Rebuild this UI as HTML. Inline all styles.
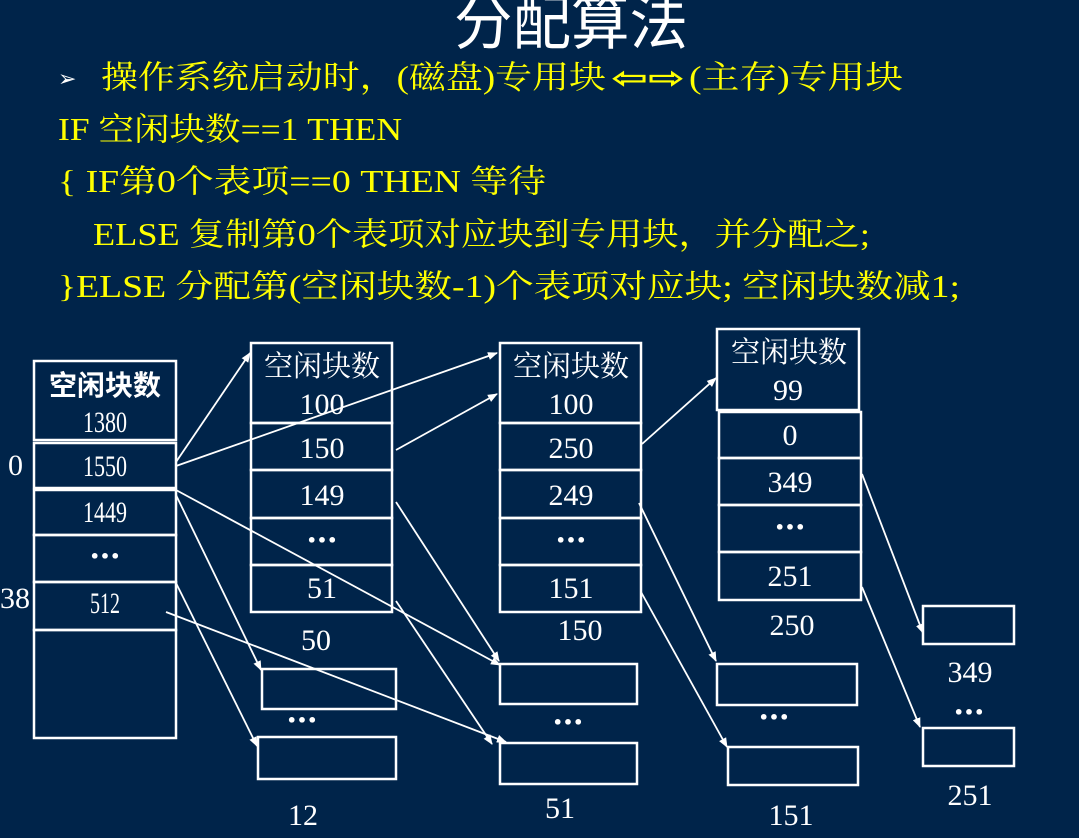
<!DOCTYPE html>
<html><head><meta charset="utf-8"><style>
html,body{margin:0;padding:0;background:#00244a;}
svg{display:block}
.y{fill:#ffff00;font-family:"Liberation Serif","Noto Serif CJK SC",serif;font-size:32px}
.w{fill:#fff;font-family:"Liberation Serif","Noto Serif CJK SC",serif;font-size:30px}
.d{fill:#fff;font-family:"DejaVu Sans",sans-serif;font-size:16px;font-weight:bold}
.b{fill:none;stroke:#fff;stroke-width:2.5}
.l{stroke:#fff;stroke-width:1.8;fill:none;marker-end:url(#a)}
</style></head><body>
<svg width="1079" height="838" viewBox="0 0 1079 838" xmlns="http://www.w3.org/2000/svg">
<defs><marker id="a" markerWidth="10" markerHeight="10" refX="9" refY="5" orient="auto" markerUnits="userSpaceOnUse"><path d="M0,1 L10,5 L0,9 Z" fill="#fff"/></marker></defs>
<rect width="1079" height="838" fill="#00244a"/>
<text x="571" y="44" class="w" text-anchor="middle" textLength="234" lengthAdjust="spacingAndGlyphs" style="font-family:'Noto Sans CJK SC',sans-serif;font-size:60px">分配算法</text>
<text x="58" y="86" fill="#fff" font-size="22" font-family="DejaVu Sans">➢</text>
<text x="101" y="88" class="y" textLength="505" lengthAdjust="spacingAndGlyphs">操作系统启动时，(磁盘)专用块</text>
<text x="611" y="88" fill="#ffff00" font-size="30" font-family="DejaVu Sans" font-weight="bold" textLength="74" lengthAdjust="spacingAndGlyphs">⇦⇨</text>
<text x="689" y="88" class="y" textLength="214" lengthAdjust="spacingAndGlyphs">(主存)专用块</text>
<text x="58" y="140" class="y" textLength="344" lengthAdjust="spacingAndGlyphs">IF 空闲块数==1 THEN</text>
<text x="58" y="192" class="y" textLength="488" lengthAdjust="spacingAndGlyphs">{  IF第0个表项==0 THEN 等待</text>
<text x="93" y="245" class="y" textLength="777" lengthAdjust="spacingAndGlyphs">ELSE 复制第0个表项对应块到专用块，并分配之;</text>
<text x="58" y="297" class="y" textLength="902" lengthAdjust="spacingAndGlyphs">}ELSE 分配第(空闲块数-1)个表项对应块; 空闲块数减1;</text>

<!-- column 1 -->
<rect x="34" y="361" width="142" height="79" class="b"/>
<rect x="34" y="443" width="142" height="45" class="b"/>
<rect x="34" y="490" width="142" height="45" class="b"/>
<rect x="34" y="535" width="142" height="47" class="b"/>
<rect x="34" y="582" width="142" height="48" class="b"/>
<rect x="34" y="630" width="142" height="108" class="b"/>
<text x="105" y="395" class="w" text-anchor="middle" style="font-weight:bold;font-family:'Noto Sans CJK SC',sans-serif;font-size:28px">空闲块数</text>
<text x="105" y="432" class="w" text-anchor="middle" textLength="44" lengthAdjust="spacingAndGlyphs">1380</text>
<text x="105" y="476" class="w" text-anchor="middle" textLength="44" lengthAdjust="spacingAndGlyphs">1550</text>
<text x="105" y="522" class="w" text-anchor="middle" textLength="44" lengthAdjust="spacingAndGlyphs">1449</text>
<text x="105" y="562" class="d" text-anchor="middle">•••</text>
<text x="105" y="613" class="w" text-anchor="middle" textLength="30" lengthAdjust="spacingAndGlyphs">512</text>
<text x="8" y="475" class="w">0</text>
<text x="0" y="608" class="w">38</text>

<!-- column 2 -->
<rect x="251" y="343" width="141" height="80" class="b"/>
<rect x="251" y="423" width="141" height="47" class="b"/>
<rect x="251" y="470" width="141" height="48" class="b"/>
<rect x="251" y="518" width="141" height="47" class="b"/>
<rect x="251" y="565" width="141" height="47" class="b"/>
<text x="322" y="376" class="w" text-anchor="middle" style="font-family:'Noto Serif CJK SC',serif;font-size:29px">空闲块数</text>
<text x="322" y="414" class="w" text-anchor="middle">100</text>
<text x="322" y="458" class="w" text-anchor="middle">150</text>
<text x="322" y="505" class="w" text-anchor="middle">149</text>
<text x="322" y="546" class="d" text-anchor="middle">•••</text>
<text x="322" y="598" class="w" text-anchor="middle">51</text>
<text x="316" y="650" class="w" text-anchor="middle">50</text>
<rect x="262" y="669" width="134" height="40" class="b"/>
<text x="302" y="726" class="d" text-anchor="middle">•••</text>
<rect x="258" y="737" width="138" height="42" class="b"/>
<text x="303" y="825" class="w" text-anchor="middle">12</text>

<!-- column 3 -->
<rect x="500" y="343" width="141" height="80" class="b"/>
<rect x="500" y="423" width="141" height="47" class="b"/>
<rect x="500" y="470" width="141" height="48" class="b"/>
<rect x="500" y="518" width="141" height="47" class="b"/>
<rect x="500" y="565" width="141" height="47" class="b"/>
<text x="571" y="376" class="w" text-anchor="middle" style="font-family:'Noto Serif CJK SC',serif;font-size:29px">空闲块数</text>
<text x="571" y="414" class="w" text-anchor="middle">100</text>
<text x="571" y="458" class="w" text-anchor="middle">250</text>
<text x="571" y="505" class="w" text-anchor="middle">249</text>
<text x="571" y="546" class="d" text-anchor="middle">•••</text>
<text x="571" y="598" class="w" text-anchor="middle">151</text>
<text x="580" y="640" class="w" text-anchor="middle">150</text>
<rect x="500" y="664" width="137" height="40" class="b"/>
<text x="568" y="728" class="d" text-anchor="middle">•••</text>
<rect x="500" y="743" width="137" height="41" class="b"/>
<text x="560" y="818" class="w" text-anchor="middle">51</text>

<!-- column 4 -->
<rect x="717" y="329" width="142" height="81" class="b"/>
<rect x="719" y="412" width="142" height="46" class="b"/>
<rect x="719" y="458" width="142" height="47" class="b"/>
<rect x="719" y="505" width="142" height="47" class="b"/>
<rect x="719" y="552" width="142" height="48" class="b"/>
<text x="789" y="362" class="w" text-anchor="middle" style="font-family:'Noto Serif CJK SC',serif;font-size:29px">空闲块数</text>
<text x="788" y="400" class="w" text-anchor="middle">99</text>
<text x="790" y="445" class="w" text-anchor="middle">0</text>
<text x="790" y="492" class="w" text-anchor="middle">349</text>
<text x="790" y="533" class="d" text-anchor="middle">•••</text>
<text x="790" y="586" class="w" text-anchor="middle">251</text>
<text x="792" y="635" class="w" text-anchor="middle">250</text>
<rect x="717" y="664" width="140" height="41" class="b"/>
<text x="774" y="723" class="d" text-anchor="middle">•••</text>
<rect x="728" y="747" width="130" height="38" class="b"/>
<text x="791" y="825" class="w" text-anchor="middle">151</text>

<!-- column 5 -->
<rect x="923" y="606" width="91" height="38" class="b"/>
<text x="970" y="682" class="w" text-anchor="middle">349</text>
<text x="969" y="718" class="d" text-anchor="middle">•••</text>
<rect x="923" y="728" width="91" height="38" class="b"/>
<text x="970" y="805" class="w" text-anchor="middle">251</text>

<!-- arrows -->
<line x1="176" y1="462" x2="250" y2="353" class="l"/>
<line x1="176" y1="466" x2="497" y2="353" class="l"/>
<line x1="396" y1="450" x2="497" y2="394" class="l"/>
<line x1="642" y1="444" x2="716" y2="378" class="l"/>
<line x1="176" y1="490" x2="500" y2="665" class="l"/>
<line x1="176" y1="495" x2="261" y2="670" class="l"/>
<line x1="176" y1="583" x2="257" y2="746" class="l"/>
<line x1="166" y1="612" x2="506" y2="742" class="l"/>
<line x1="396" y1="502" x2="499" y2="661" class="l"/>
<line x1="396" y1="601" x2="492" y2="744" class="l"/>
<line x1="639" y1="503" x2="716" y2="661" class="l"/>
<line x1="641" y1="592" x2="727" y2="747" class="l"/>
<line x1="862" y1="474" x2="923" y2="633" class="l"/>
<line x1="862" y1="587" x2="920" y2="727" class="l"/>
</svg>
</body></html>
